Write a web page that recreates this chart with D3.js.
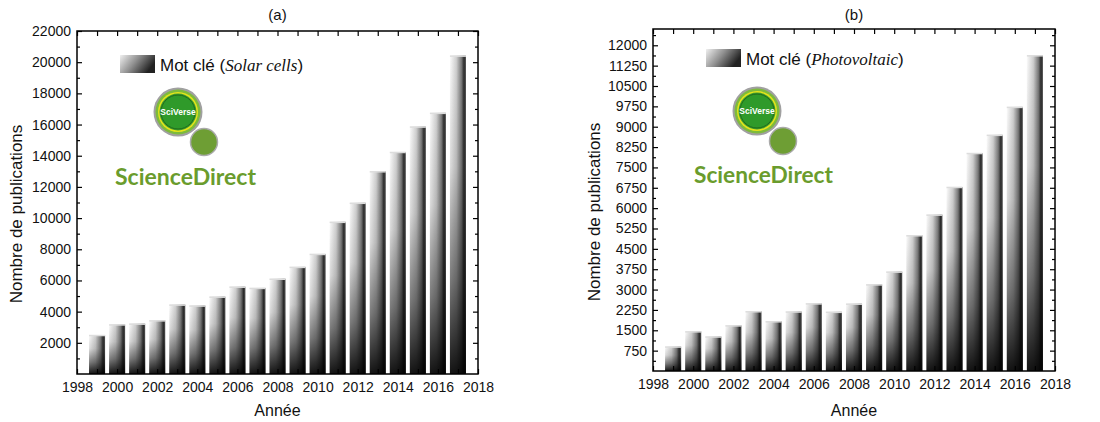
<!DOCTYPE html>
<html><head><meta charset="utf-8">
<script src="https://cdn.jsdelivr.net/npm/d3@7"></script>
<style>
body{margin:0;background:#fff;}
svg{display:block;font-family:"Liberation Sans",Arial,Helvetica,sans-serif;}
</style></head>
<body>
<svg id="chart" width="1100" height="422"></svg>
<script>
// ---- data ----
const years = [1999,2000,2001,2002,2003,2004,2005,2006,2007,2008,2009,2010,2011,2012,2013,2014,2015,2016,2017];
const solarCells = [2500,3180,3230,3440,4450,4390,4960,5600,5520,6110,6870,7700,9760,10980,13000,14240,15870,16750,20420];
const photovoltaic = [900,1460,1270,1680,2200,1830,2190,2490,2180,2480,3190,3660,5000,5760,6780,8030,8700,9730,11630];
const xTickLabels = [1998,2000,2002,2004,2006,2008,2010,2012,2014,2016,2018];
const xTicksAll = [1998,1999,2000,2001,2002,2003,2004,2005,2006,2007,2008,2009,2010,2011,2012,2013,2014,2015,2016,2017,2018];
const yTicksA = [2000,4000,6000,8000,10000,12000,14000,16000,18000,20000,22000];
const yMinorA = [1000,3000,5000,7000,9000,11000,13000,15000,17000,19000,21000];
const yTicksB = [750,1500,2250,3000,3750,4500,5250,6000,6750,7500,8250,9000,9750,10500,11250,12000];
const yMinorB = [375,1125,1875,2625,3375,4125,4875,5625,6375,7125,7875,8625,9375,10125,10875,11625,12375];
const titles = ["(a)","(b)"];
const keywords = ["Solar cells","Photovoltaic"];

const svg = d3.select("#chart");
const defs = svg.append("defs");
const hg = defs.append("linearGradient").attr("id","hg").attr("x1","0").attr("x2","1").attr("y1","0").attr("y2","0");
[[0,"#fbfbfb"],[0.4,"#cfcfcf"],[0.72,"#7a7a7a"],[0.88,"#2c2c2c"],[1,"#555"]].forEach(s=>hg.append("stop").attr("offset",s[0]).attr("stop-color",s[1]));
const vg = defs.append("linearGradient").attr("id","vg").attr("x1","0").attr("x2","0").attr("y1","0").attr("y2","1");
[[0,0],[0.35,0.12],[0.7,0.5],[1,0.92]].forEach(s=>vg.append("stop").attr("offset",s[0]).attr("stop-color","#000").attr("stop-opacity",s[1]));
const lg = defs.append("linearGradient").attr("id","lg").attr("x1","0").attr("x2","1").attr("y1","0").attr("y2","0.4");
[[0,"#f0f0f0"],[0.5,"#909090"],[1,"#222"]].forEach(s=>lg.append("stop").attr("offset",s[0]).attr("stop-color",s[1]));

function panel(cfg){
  const g = svg.append("g");
  const x = d3.scaleLinear().domain([1998,2018]).range([cfg.left,cfg.right]);
  const y = d3.scaleLinear().domain([0,cfg.ymax]).range([cfg.bottom,cfg.top]);
  const bw = (x(1999)-x(1998))*0.8;
  const bars = g.append("g");
  cfg.values.forEach((v,i)=>{
    const bx = x(years[i])-bw/2, by = y(v), bh = y(0)-y(v);
    bars.append("rect").attr("x",bx).attr("y",by).attr("width",bw).attr("height",bh).attr("fill","url(#hg)");
    bars.append("rect").attr("x",bx).attr("y",by).attr("width",bw).attr("height",bh).attr("fill","url(#vg)");
    bars.append("line").attr("x1",bx).attr("x2",bx+bw).attr("y1",by+0.5).attr("y2",by+0.5).attr("stroke","#ddd").attr("stroke-width",1.5);
  });
  const fs = "14px";
  const ab = g.append("g").attr("transform",`translate(0,${cfg.bottom})`)
    .call(d3.axisBottom(x).tickValues(xTicksAll).tickSize(-5).tickSizeOuter(0).tickPadding(8).tickFormat(d=>xTickLabels.includes(d)?String(d):""));
  const at = g.append("g").attr("transform",`translate(0,${cfg.top})`)
    .call(d3.axisTop(x).tickValues(xTicksAll).tickSize(-5).tickSizeOuter(0).tickFormat(""));
  const al = g.append("g").attr("transform",`translate(${cfg.left},0)`)
    .call(d3.axisLeft(y).tickValues(cfg.yt).tickSize(-5).tickSizeOuter(0).tickPadding(6).tickFormat(d=>String(d)));
  const alm = g.append("g").attr("transform",`translate(${cfg.left},0)`)
    .call(d3.axisLeft(y).tickValues(cfg.ym).tickSize(-3).tickSizeOuter(0).tickFormat(""));
  const ar = g.append("g").attr("transform",`translate(${cfg.right},0)`)
    .call(d3.axisRight(y).tickValues(cfg.yt).tickSize(-5).tickSizeOuter(0).tickFormat(""));
  const arm = g.append("g").attr("transform",`translate(${cfg.right},0)`)
    .call(d3.axisRight(y).tickValues(cfg.ym).tickSize(-3).tickSizeOuter(0).tickFormat(""));
  [ab,at,al,alm,ar,arm].forEach(a=>{
    a.select(".domain").remove();
    a.selectAll(".tick line").attr("stroke","#000").attr("stroke-width",1.2);
    a.selectAll("text").attr("font-size",fs).attr("fill","#111").attr("font-family","'Liberation Sans',Arial,sans-serif");
  });
  g.append("rect").attr("x",cfg.left).attr("y",cfg.top).attr("width",cfg.right-cfg.left).attr("height",cfg.bottom-cfg.top)
    .attr("fill","none").attr("stroke","#000").attr("stroke-width",1.5);
  g.append("text").attr("x",(cfg.left+cfg.right)/2).attr("y",20).attr("text-anchor","middle").attr("font-size","15px").attr("fill","#111").text(cfg.title);
  g.append("text").attr("x",(cfg.left+cfg.right)/2).attr("y",416).attr("text-anchor","middle").attr("font-size","16px").attr("fill","#111").text("Année");
  g.append("text").attr("transform",`translate(${cfg.ytx},${cfg.yty}) rotate(-90)`).attr("text-anchor","middle").attr("font-size","17px").attr("fill","#111").text("Nombre de publications");
  g.append("rect").attr("x",cfg.lx).attr("y",cfg.ly).attr("width",35).attr("height",18).attr("fill","url(#lg)");
  const lt = g.append("text").attr("x",cfg.lx+40).attr("y",cfg.ly+16).attr("font-size","17px").attr("fill","#111");
  lt.append("tspan").text("Mot clé (");
  lt.append("tspan").attr("font-family","'Liberation Serif','Times New Roman',serif").attr("font-style","italic").text(cfg.kw);
  lt.append("tspan").text(")");
  const cx = cfg.cx, cy = cfg.cy;
  g.append("circle").attr("cx",cx+26).attr("cy",cy+30).attr("r",13.5).attr("fill","#6e9e34").attr("stroke","#aaa").attr("stroke-width",1.5);
  g.append("circle").attr("cx",cx).attr("cy",cy).attr("r",24.5).attr("fill","#a0a0a0");
  g.append("circle").attr("cx",cx).attr("cy",cy).attr("r",22.5).attr("fill","#7dbb3c");
  g.append("circle").attr("cx",cx).attr("cy",cy).attr("r",20).attr("fill","#e4e41a");
  g.append("circle").attr("cx",cx).attr("cy",cy).attr("r",18.5).attr("fill","#3d9d2f");
  g.append("circle").attr("cx",cx).attr("cy",cy).attr("r",17).attr("fill","#2f9a2a").attr("stroke","#1f6a1c").attr("stroke-width",1);
  g.append("text").attr("x",cx).attr("y",cy+3).attr("text-anchor","middle").attr("font-size","8.5px").attr("font-weight","bold").attr("fill","#fff").text("SciVerse");
  g.append("text").attr("x",cfg.sdx).attr("y",cfg.sdy).attr("font-size","23px").attr("font-weight","bold").attr("fill","#6a9c2d")
    .attr("font-family","Lato,'Open Sans',sans-serif")
    .attr("textLength",cfg.sdw).attr("lengthAdjust","spacingAndGlyphs").text("ScienceDirect");
}

panel({values:solarCells,ymax:22000,left:77,right:478,top:31,bottom:374,yt:yTicksA,ym:yMinorA,title:titles[0],kw:keywords[0],
  ytx:22,yty:214,lx:120,ly:55,cx:178,cy:112,sdx:115,sdy:185,sdw:141});
panel({values:photovoltaic,ymax:12600,left:653,right:1055,top:29,bottom:371,yt:yTicksB,ym:yMinorB,title:titles[1],kw:keywords[1],
  ytx:600,yty:212,lx:706,ly:49,cx:757,cy:111,sdx:694,sdy:183,sdw:139});
</script>
</body></html>
